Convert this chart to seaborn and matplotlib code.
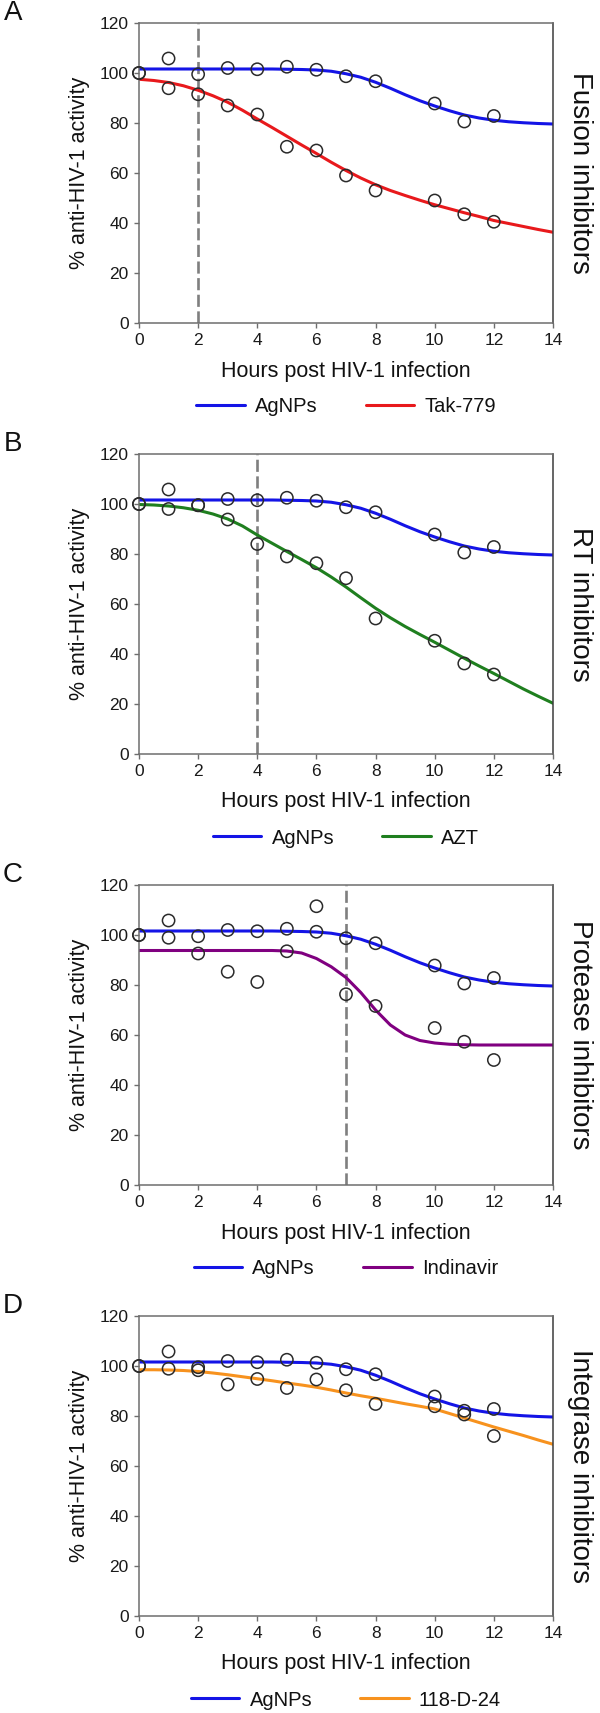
import matplotlib
matplotlib.use("Agg")
import matplotlib.pyplot as plt
import seaborn as sns
from matplotlib.lines import Line2D

# measured time points (hours post infection)
hours = [0, 1, 2, 3, 4, 5, 6, 7, 8, 10, 11, 12]

agnps_pts = [100, 105.8, 99.5, 102, 101.5, 102.5, 101.3, 98.7, 96.7, 87.8, 80.6, 82.8]
tak779_pts = [100, 93.9, 91.5, 87, 83.4, 70.5, 69, 59, 53, 49, 43.5, 40.5]
azt_pts = [100, 98, 99.5, 93.8, 84, 79, 76.3, 70.3, 54.2, 45.3, 36.2, 31.8]
indinavir_pts = [100, 98.9, 92.6, 85.3, 81.2, 93.5, 111.5, 76.3, 71.6, 62.8, 57.3, 50]
d24_pts = [100, 98.9, 98.3, 92.6, 94.8, 91.2, 94.6, 90.3, 84.8, 83.9, 82.1, 72]

# fitted curves every half hour
fit_hours = [0, 0.5, 1, 1.5, 2, 2.5, 3, 3.5, 4, 4.5, 5, 5.5, 6, 6.5, 7,
             7.5, 8, 8.5, 9, 9.5, 10, 10.5, 11, 11.5, 12, 12.5, 13, 13.5, 14]
agnps_fit = [101.6, 101.6, 101.6, 101.6, 101.6, 101.6, 101.6, 101.6, 101.6, 101.6,
             101.5, 101.4, 101.2, 100.7, 99.7, 98.3, 96.3, 93.9, 91.3, 88.9,
             86.8, 84.9, 83.2, 82.0, 81.1, 80.5, 80.1, 79.8, 79.6]
tak779_fit = [97.5, 97.0, 96.2, 94.9, 93.1, 90.9, 88.3, 85.1, 81.6, 78.2,
              74.7, 71.2, 67.8, 64.3, 61.0, 58.0, 55.3, 53.0, 51.0, 49.1,
              47.3, 45.7, 44.1, 42.6, 41.0, 39.8, 38.6, 37.4, 36.3]
azt_fit = [99.8, 99.6, 99.2, 98.5, 97.5, 96.0, 94.0, 91.2, 87.6, 84.3,
           81.0, 77.8, 74.5, 70.8, 66.8, 62.5, 58.3, 54.5, 51.0, 47.8,
           44.7, 41.5, 38.3, 35.2, 32.2, 29.1, 26.0, 23.1, 20.3]
indinavir_fit = [93.8, 93.8, 93.8, 93.8, 93.8, 93.8, 93.8, 93.8, 93.8, 93.8,
                 93.6, 92.8, 90.6, 87.3, 83.0, 77.0, 70.0, 64.0, 60.0, 57.8,
                 56.8, 56.3, 56.1, 56.0, 56.0, 56.0, 56.0, 56.0, 56.0]
d24_fit = [98.5, 98.5, 98.4, 98.2, 97.8, 97.2, 96.5, 95.7, 94.9, 94.1,
           93.2, 92.4, 91.5, 90.4, 89.2, 88.1, 87.1, 86.0, 84.9, 83.9,
           82.8, 81.0, 79.2, 77.4, 75.6, 73.9, 72.2, 70.4, 68.7]

panel_letters = ["A", "B", "C", "D"]
drug_names = ["Tak-779", "AZT", "Indinavir", "118-D-24"]
drug_pts = [tak779_pts, azt_pts, indinavir_pts, d24_pts]
drug_fits = [tak779_fit, azt_fit, indinavir_fit, d24_fit]
drug_colors = ["#e8191c", "#1f7f1f", "#800080", "#f7921e"]
side_labels = ["Fusion inhibitors", "RT inhibitors", "Protease inhibitors", "Integrase inhibitors"]
cutoff_hours = [2, 4, 7, None]

AG_COLOR = "#1414e6"

sns.set_style("ticks")
plt.rcParams["font.family"] = ["Liberation Sans", "DejaVu Sans"]
plt.rcParams["axes.edgecolor"] = "#6e6e6e"
plt.rcParams["xtick.color"] = "#6e6e6e"
plt.rcParams["ytick.color"] = "#6e6e6e"
plt.rcParams["xtick.labelcolor"] = "#1a1a1a"
plt.rcParams["ytick.labelcolor"] = "#1a1a1a"

W, H = 600, 1713
fig = plt.figure(figsize=(W / 100, H / 100), dpi=100)

ax_left, ax_w, ax_h = 139, 414, 300
tops = [23, 454, 885, 1316]

for i, top in enumerate(tops):
    ax = fig.add_axes([ax_left / W, 1 - (top + ax_h) / H, ax_w / W, ax_h / H])

    if cutoff_hours[i] is not None:
        ax.axvline(cutoff_hours[i], color="#7f7f7f", lw=1.9, ls=(0, (4.6, 1.7)), zorder=1)

    sns.lineplot(x=fit_hours, y=agnps_fit, color=AG_COLOR, lw=2.2, ax=ax, zorder=2)
    sns.lineplot(x=fit_hours, y=drug_fits[i], color=drug_colors[i], lw=2.2, ax=ax, zorder=2)

    for pts in (agnps_pts, drug_pts[i]):
        sns.scatterplot(x=hours, y=pts, s=78, marker="o", facecolor="none",
                        edgecolor="#2a2a2a", linewidth=1.1, ax=ax, zorder=3, clip_on=False)

    ax.set_xlim(0, 14)
    ax.set_ylim(0, 120)
    ax.set_xticks(range(0, 15, 2))
    ax.set_yticks(range(0, 121, 20))
    ax.tick_params(direction="out", length=3.5, width=1, labelsize=12.5, pad=4)
    for side in ["top", "right", "left", "bottom"]:
        ax.spines[side].set_visible(True)
        ax.spines[side].set_linewidth(1.1)
    ax.spines["right"].set_color("#3c3c3c")

    ax.set_xlabel("Hours post HIV-1 infection", fontsize=15.5, color="#111111")
    ax.set_ylabel("% anti-HIV-1 activity", fontsize=15.5, color="#111111")
    ax.xaxis.set_label_coords(0.5, -0.125)
    ax.yaxis.set_label_coords(-0.118, 0.5)

    ax.text(1.065, 0.5, side_labels[i], transform=ax.transAxes, rotation=-90,
            ha="center", va="center", fontsize=20, color="#111111")
    fig.text(13 / W, 1 - (top - 10) / H, panel_letters[i], ha="center", va="center",
             fontsize=20, color="#111111")

    handles = [Line2D([], [], color=AG_COLOR, lw=2.2), Line2D([], [], color=drug_colors[i], lw=2.2)]
    ax.legend(handles, ["AgNPs", drug_names[i]], loc="center", bbox_to_anchor=(0.5, -0.28),
              ncol=2, frameon=False, fontsize=14.5, handlelength=2.4, handletextpad=0.5,
              columnspacing=2.4, labelcolor="#111111")

fig.savefig("out.png", dpi=100)
